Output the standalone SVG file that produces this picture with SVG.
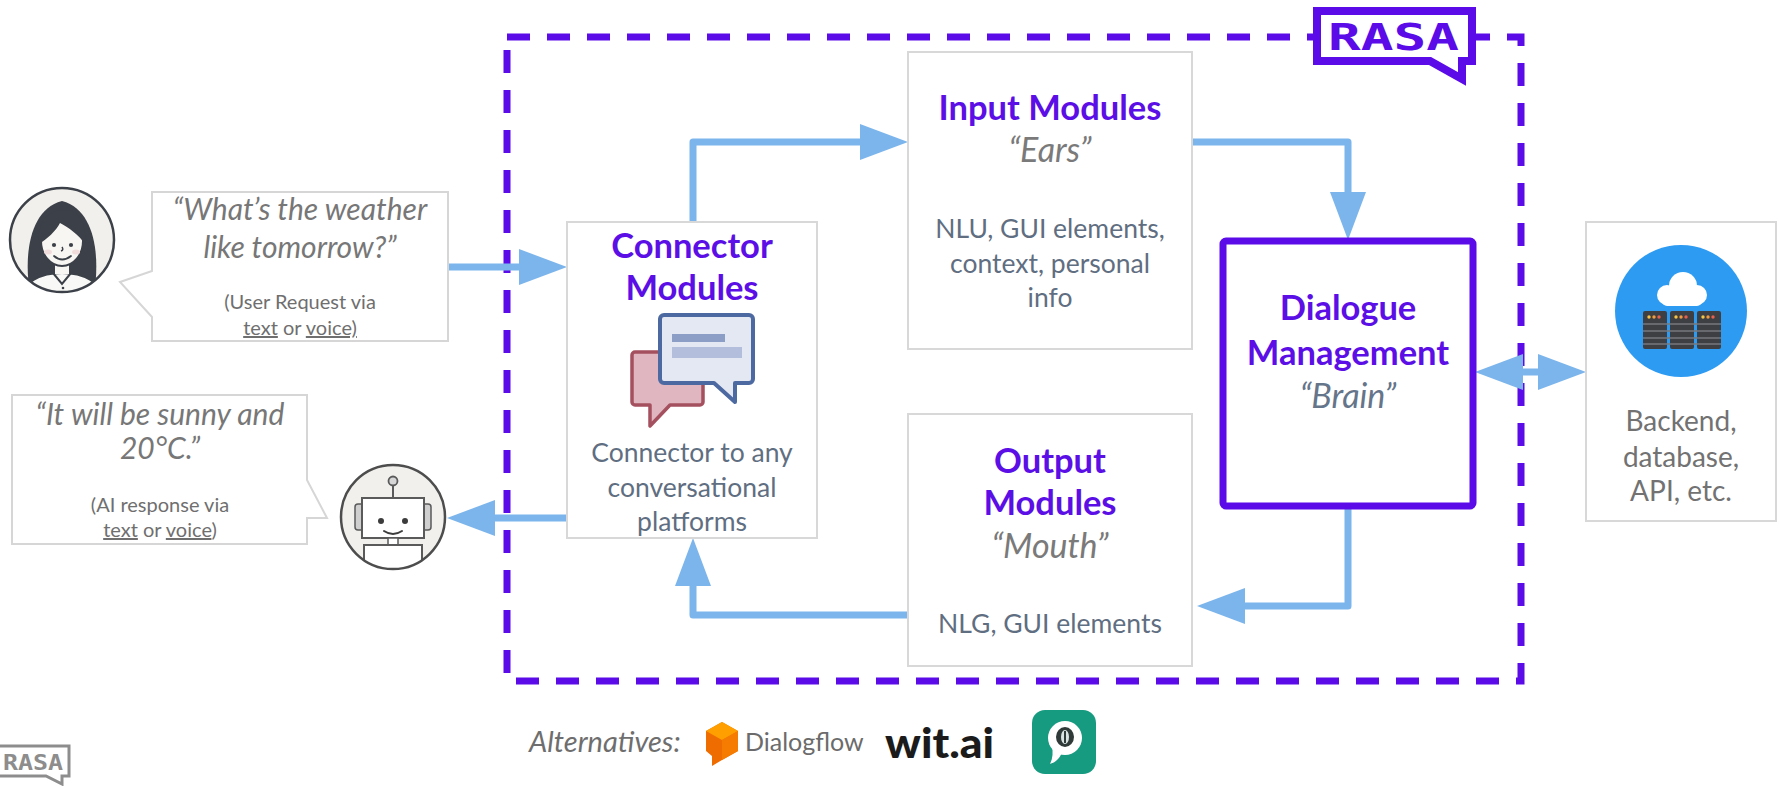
<svg xmlns="http://www.w3.org/2000/svg" width="1779" height="786" viewBox="0 0 1779 786">
  <style>
    .box { fill: #ffffff; stroke: #d8d8d8; stroke-width: 2; }
    .bubble { fill: #ffffff; stroke: #d6d6d6; stroke-width: 2; stroke-linejoin: miter; }
    .title { font-family: Lato, "Liberation Sans", sans-serif; font-weight: 700; font-size: 34.5px; fill: #5b0fe6; text-anchor: middle; }
    .nick { font-family: Lato, "Liberation Sans", sans-serif; font-style: italic; font-size: 34px; fill: #7a7a7a; text-anchor: middle; }
    .body { font-family: Lato, "Liberation Sans", sans-serif; font-size: 26.5px; fill: #5f6e81; text-anchor: middle; }
    .quote { font-family: Lato, "Liberation Sans", sans-serif; font-style: italic; font-size: 30px; fill: #777777; text-anchor: middle; }
    .small { font-family: Lato, "Liberation Sans", sans-serif; font-size: 20px; fill: #6f6f6f; text-anchor: middle; }
    .gray { font-family: Lato, "Liberation Sans", sans-serif; font-size: 28px; fill: #727272; text-anchor: middle; }
    .flow { fill: none; stroke: #7bb5eb; stroke-width: 7; stroke-linejoin: round; }
    .ink { stroke: #3c4149; stroke-width: 2; }
  </style>
  <defs>
    <marker id="head" viewBox="0 0 48 36" refX="28" refY="18" markerWidth="48" markerHeight="36" markerUnits="userSpaceOnUse" orient="auto-start-reverse">
      <path d="M0,0 L48,18 L0,36 Z" fill="#7bb5eb"/>
    </marker>
    <clipPath id="clipWoman"><circle cx="62" cy="240" r="52"/></clipPath>
    <clipPath id="clipRobot"><circle cx="393" cy="517" r="52"/></clipPath>
  </defs>

  <rect width="1779" height="786" fill="#ffffff"/>

  <!-- Rasa boundary -->
  <g id="rasa-frame">
    <rect x="507" y="37" width="1014" height="644" fill="none" stroke="#5b0be8" stroke-width="7" stroke-dasharray="23 17"/>
  </g>

  <!-- Rasa logo on the frame -->
  <g id="rasa-logo">
    <path d="M1317,11 H1472 V61 H1462 V79 L1430,61 H1317 Z" fill="#ffffff" stroke="#5b0be8" stroke-width="8"/>
    <text x="1328" y="50" font-family="DejaVu Sans Mono, monospace" font-weight="700" font-size="37" fill="#5b0be8" textLength="131" lengthAdjust="spacingAndGlyphs">RASA</text>
  </g>

  <!-- connectors -->
  <g id="connectors">
    <path class="flow" d="M448,267 H547" marker-end="url(#head)"/>
    <path class="flow" d="M693,222 V142 H888" marker-end="url(#head)"/>
    <path class="flow" d="M1192,142 H1348 V220" marker-end="url(#head)"/>
    <path class="flow" d="M1348,506 V606 H1217" marker-end="url(#head)"/>
    <path class="flow" d="M908,615 H693 V558" marker-end="url(#head)"/>
    <path class="flow" d="M567,518 H467" marker-end="url(#head)"/>
    <path class="flow" d="M1495,372 H1566" marker-start="url(#head)" marker-end="url(#head)"/>
  </g>

  <!-- user -->
  <g id="user">
    <circle cx="62" cy="240" r="52" fill="#f2f0ec"/>
    <g clip-path="url(#clipWoman)">
      <path d="M30,294 C24,258 28,210 62,201 C96,210 100,258 94,294 Z" fill="#3c4048"/>
      <path d="M18,302 C22,281 42,273 62,273 C82,273 102,281 106,302 Z" fill="#f8f8f6" class="ink"/>
      <path d="M53,273 L62,284 L71,273" fill="none" class="ink"/>
      <circle cx="63" cy="288" r="1.3" fill="#3c4149"/>
      <circle cx="63" cy="295" r="1.3" fill="#3c4149"/>
      <rect x="55" y="258" width="14" height="16" fill="#f8f6f2"/>
      <ellipse cx="62" cy="241" rx="21" ry="25" fill="#f8f6f2" class="ink"/>
      <path d="M39,244 C37,221 49,210 64,210 C79,210 87,222 85,244 C79,235 68,227 60,223 C56,231 47,239 39,244 Z" fill="#3c4048"/>
      <circle cx="54" cy="245" r="2.1" fill="#3c4149"/>
      <circle cx="71" cy="245" r="2.1" fill="#3c4149"/>
      <ellipse cx="48" cy="252" rx="4" ry="2.5" fill="#f1dcdc"/>
      <ellipse cx="76" cy="252" rx="4" ry="2.5" fill="#f1dcdc"/>
      <path d="M62,247 q2,3 -1,4" fill="none" stroke="#3c4149" stroke-width="1.5"/>
      <path d="M54,256 Q62,263 71,256" fill="none" stroke="#3c4149" stroke-width="1.8" stroke-linecap="round"/>
    </g>
    <circle cx="62" cy="240" r="52" fill="none" stroke="#3c4149" stroke-width="2.5"/>
  </g>

  <!-- user request bubble -->
  <g id="request">
    <path class="bubble" d="M152,192 H448 V341 H152 V317 L120,282 L152,271 Z"/>
    <text class="quote" x="300" y="220">“What’s the weather</text>
    <text class="quote" x="300" y="258">like tomorrow?”</text>
    <text class="small" x="300" y="309">(User Request via</text>
    <text class="small" x="300" y="335"><tspan text-decoration="underline">text</tspan> or <tspan text-decoration="underline">voice)</tspan></text>
  </g>

  <!-- bot -->
  <g id="bot">
    <circle cx="393" cy="517" r="52" fill="#f1f0ed"/>
    <g clip-path="url(#clipRobot)">
      <line x1="393" y1="485" x2="393" y2="498" stroke="#5a5a5a" stroke-width="2"/>
      <circle cx="393" cy="481" r="4.5" fill="#d6d6d6" stroke="#5a5a5a" stroke-width="1.8"/>
      <rect x="355" y="504" width="9" height="26" rx="3" fill="#cfcfcf" stroke="#5a5a5a" stroke-width="1.5"/>
      <rect x="422" y="504" width="9" height="26" rx="3" fill="#cfcfcf" stroke="#5a5a5a" stroke-width="1.5"/>
      <rect x="362" y="498" width="62" height="40" fill="#ffffff" stroke="#5a5a5a" stroke-width="2"/>
      <circle cx="381" cy="521" r="3" fill="#3c3c3c"/>
      <circle cx="405" cy="521" r="3" fill="#3c3c3c"/>
      <path d="M384,531 Q393,537 402,531" fill="none" stroke="#3c3c3c" stroke-width="2" stroke-linecap="round"/>
      <rect x="388" y="538" width="10" height="7" fill="#ffffff" stroke="#5a5a5a" stroke-width="1.5"/>
      <rect x="364" y="545" width="58" height="30" fill="#ffffff" stroke="#5a5a5a" stroke-width="2"/>
    </g>
    <circle cx="393" cy="517" r="52" fill="none" stroke="#4d4d4d" stroke-width="2.5"/>
  </g>

  <!-- bot response bubble -->
  <g id="response">
    <path class="bubble" d="M12,395 H307 V480 L327,518 H307 V544 H12 Z"/>
    <text class="quote" x="160" y="425">“It will be sunny and</text>
    <text class="quote" x="160" y="459">20°C.”</text>
    <text class="small" x="160" y="512">(AI response via</text>
    <text class="small" x="160" y="537"><tspan text-decoration="underline">text</tspan> or <tspan text-decoration="underline">voice</tspan>)</text>
  </g>

  <!-- connector modules -->
  <g id="connector-modules">
    <rect class="box" x="567" y="222" width="250" height="316"/>
    <text class="title" x="692" y="258">Connector</text>
    <text class="title" x="692" y="300">Modules</text>
    <path d="M635,352 H700 a3,3 0 0 1 3,3 V402 a3,3 0 0 1 -3,3 H670 L650,426 V405 H635 a3,3 0 0 1 -3,-3 V355 a3,3 0 0 1 3,-3 Z" fill="#e0b7c0" stroke="#a5505f" stroke-width="3.5" stroke-linejoin="round"/>
    <path d="M664,315 H749 a4,4 0 0 1 4,4 V379 a4,4 0 0 1 -4,4 H735 V402 L714,383 H664 a4,4 0 0 1 -4,-4 V319 a4,4 0 0 1 4,-4 Z" fill="#e4e8f3" stroke="#4d69a1" stroke-width="4" stroke-linejoin="round"/>
    <rect x="672" y="334" width="53" height="8" fill="#8c9dc6"/>
    <rect x="672" y="347" width="70" height="11" fill="#b3bedc"/>
    <text class="body" x="692" y="462">Connector to any</text>
    <text class="body" x="692" y="497">conversational</text>
    <text class="body" x="692" y="531">platforms</text>
  </g>

  <!-- input modules -->
  <g id="input-modules">
    <rect class="box" x="908" y="52" width="284" height="297"/>
    <text class="title" x="1050" y="120">Input Modules</text>
    <text class="nick" x="1050" y="162">“Ears”</text>
    <text class="body" x="1050" y="238">NLU, GUI elements,</text>
    <text class="body" x="1050" y="273">context, personal</text>
    <text class="body" x="1050" y="307">info</text>
  </g>

  <!-- dialogue management -->
  <g id="dialogue-management">
    <rect x="1223" y="241" width="250" height="265" rx="3" fill="#ffffff" stroke="#5b0be8" stroke-width="7"/>
    <text class="title" x="1348" y="320">Dialogue</text>
    <text class="title" x="1348" y="365">Management</text>
    <text class="nick" x="1348" y="408" style="fill:#65758a">“Brain”</text>
  </g>

  <!-- output modules -->
  <g id="output-modules">
    <rect class="box" x="908" y="414" width="284" height="252"/>
    <text class="title" x="1050" y="473">Output</text>
    <text class="title" x="1050" y="515">Modules</text>
    <text class="nick" x="1050" y="558">“Mouth”</text>
    <text class="body" x="1050" y="633">NLG, GUI elements</text>
  </g>

  <!-- backend -->
  <g id="backend">
    <rect class="box" x="1586" y="222" width="190" height="299"/>
    <circle cx="1681" cy="311" r="66" fill="#2d9bf2"/>
    <circle cx="1667" cy="295" r="10" fill="#ffffff"/>
    <circle cx="1683" cy="286" r="14" fill="#ffffff"/>
    <circle cx="1697" cy="295" r="10" fill="#ffffff"/>
    <rect x="1662" y="293" width="40" height="13" rx="5" fill="#ffffff"/>
    <g fill="#3d3f43">
      <rect x="1643" y="311" width="24" height="38" rx="2"/>
      <rect x="1670" y="311" width="24" height="38" rx="2"/>
      <rect x="1697" y="311" width="24" height="38" rx="2"/>
    </g>
    <g stroke="#77797c" stroke-width="1.5">
      <line x1="1643" y1="324" x2="1721" y2="324"/>
      <line x1="1643" y1="331" x2="1721" y2="331"/>
      <line x1="1643" y1="338" x2="1721" y2="338"/>
      <line x1="1643" y1="344" x2="1721" y2="344"/>
    </g>
    <g>
      <circle cx="1649" cy="317" r="1.7" fill="#f6c445"/>
      <circle cx="1654" cy="317" r="1.7" fill="#f29a3e"/>
      <circle cx="1659" cy="317" r="1.7" fill="#e6604c"/>
      <circle cx="1676" cy="317" r="1.7" fill="#f6c445"/>
      <circle cx="1681" cy="317" r="1.7" fill="#f29a3e"/>
      <circle cx="1686" cy="317" r="1.7" fill="#e6604c"/>
      <circle cx="1703" cy="317" r="1.7" fill="#f6c445"/>
      <circle cx="1708" cy="317" r="1.7" fill="#f29a3e"/>
      <circle cx="1713" cy="317" r="1.7" fill="#e6604c"/>
    </g>
    <text class="gray" x="1681" y="431">Backend,</text>
    <text class="gray" x="1681" y="467">database,</text>
    <text class="gray" x="1681" y="501">API, etc.</text>
  </g>

  <!-- alternatives -->
  <g id="alternatives">
    <text x="529" y="752" font-family="Lato, 'Liberation Sans', sans-serif" font-style="italic" font-size="29" fill="#6e6e6e">Alternatives:</text>
    <path d="M722,722 L738,731 V751 L722,760 L712,766 V756 L706,751 V731 Z" fill="#ef6c00"/>
    <path d="M722,722 L738,731 L722,740 L706,731 Z" fill="#ffa000"/>
    <path d="M722,740 L738,731 V751 L722,760 Z" fill="#f57c00"/>
    <text x="745" y="751" font-family="Lato, 'Liberation Sans', sans-serif" font-size="25" fill="#6b6b6b">Dialogflow</text>
    <text x="885" y="758" font-family="Lato, 'Liberation Sans', sans-serif" font-weight="900" font-size="42" fill="#1b1b1b" textLength="109" lengthAdjust="spacingAndGlyphs">wit.ai</text>
    <rect x="1032" y="710" width="64" height="64" rx="13" fill="#169b80"/>
    <circle cx="1065" cy="738" r="17" fill="#ffffff"/>
    <path d="M1052,746 L1062,752 C1060,758 1056,762 1050,764 C1053,758 1053,752 1052,746 Z" fill="#ffffff"/>
    <ellipse cx="1065" cy="737" rx="9" ry="10" fill="#2f3a39"/>
    <ellipse cx="1065" cy="737" rx="4" ry="7" fill="#d9e4e2"/>
    <rect x="1064" y="731" width="2" height="12" fill="#2f3a39"/>
  </g>

  <!-- small logo -->
  <g id="rasa-mark">
    <path d="M-6,746 H69 V776 H62 V784 L46,776 H-6 Z" fill="#ffffff" stroke="#8d8d8d" stroke-width="3"/>
    <text x="3" y="770" font-family="DejaVu Sans Mono, monospace" font-weight="700" font-size="21" fill="#8d8d8d" textLength="60" lengthAdjust="spacingAndGlyphs">RASA</text>
  </g>
</svg>
